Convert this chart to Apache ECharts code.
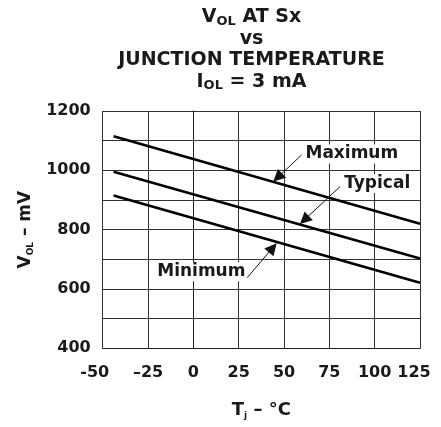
<!DOCTYPE html>
<html><head><meta charset="utf-8">
<script src="https://cdn.jsdelivr.net/npm/echarts@6/dist/echarts.min.js"></script>
<style>html,body{margin:0;padding:0;background:#fff}#c{width:441px;height:427px}</style>
</head><body><div id="c"></div>
<script>
// ---- data ----
const temps = [-44, 125];
const vMaximum = [1115, 820];
const vTypical = [995, 703];
const vMinimum = [915, 621];
const xTickValues = [-50, -25, 0, 25, 50, 75, 100, 125];
const xTickLabels = ['-50', '–25', '0', '25', '50', '75', '100', '125'];
const yTickValues = [400, 500, 600, 700, 800, 900, 1000, 1100, 1200];
const yTickLabels = ['400', '', '600', '', '800', '', '1000', '', '1200'];
const annotationNames = ['Maximum', 'Typical', 'Minimum'];
const annotationTextAt = [[87.4, 1055], [101.4, 956], [4.4, 658]];
const annotationTail = [[59.7, 1052], [80.9, 945], [29.7, 638]];
const annotationHead = [[46.5, 976], [61.2, 833], [43.8, 739]];

const FONT = '"DejaVu Sans", sans-serif';
const INK = '#1a1a1a';
const chart = echarts.init(document.getElementById('c'), null, {renderer: 'canvas'});

function pairs(xs, ys) { return xs.map((x, i) => [x, ys[i]]); }

const base = {fontFamily: FONT, fontWeight: 'bold', color: INK};
const mainT = Object.assign({fontSize: 19, lineHeight: 21.5}, base);
const subT = Object.assign({fontSize: 13, lineHeight: 8, verticalAlign: 'bottom'}, base);

chart.setOption({
  animation: false,
  backgroundColor: '#fff',
  title: {
    left: 251.5, top: 6.5, padding: 0, textAlign: 'center',
    text: '{a|V}{s|OL}{a| AT Sx}\n{a|vs}\n{a|JUNCTION TEMPERATURE}\n{a|I}{s|OL}{a| = 3 mA}',
    textStyle: {rich: {a: mainT, s: subT}}
  },
  grid: {left: 102.7, right: 21, top: 111, bottom: 78.7, containLabel: false},
  xAxis: {
    type: 'value', min: -50, max: 125, interval: 25,
    axisLine: {show: true, lineStyle: {color: '#222', width: 1}},
    axisTick: {show: false},
    splitLine: {show: true, lineStyle: {color: '#333', width: 1}},
    axisLabel: {
      margin: 17, fontFamily: FONT, fontWeight: 'bold', fontSize: 16, color: INK,
      formatter: function (v) {
        const i = xTickValues.indexOf(v);
        const t = i >= 0 ? xTickLabels[i] : '';
        if (i === 0) return '{f|' + t + '}';
        if (i === xTickValues.length - 1) return '{l|' + t + '}';
        return t;
      },
      rich: {
        f: {fontFamily: FONT, fontWeight: 'bold', fontSize: 16, color: INK, padding: [0, 16, 0, 0]},
        l: {fontFamily: FONT, fontWeight: 'bold', fontSize: 16, color: INK, padding: [0, 12, 0, 0]}
      }
    },
    name: '{a|T}{s|j}{a| – °C}',
    nameLocation: 'middle', nameGap: 52,
    nameTextStyle: {rich: {
      a: Object.assign({fontSize: 18, lineHeight: 20}, base),
      s: Object.assign({fontSize: 9, lineHeight: 6, verticalAlign: 'bottom'}, base)
    }}
  },
  yAxis: {
    type: 'value', min: 400, max: 1200, interval: 100,
    axisLine: {show: true, lineStyle: {color: '#222', width: 1}},
    axisTick: {show: false},
    splitLine: {show: true, lineStyle: {color: '#333', width: 1}},
    axisLabel: {
      margin: 12, fontFamily: FONT, fontWeight: 'bold', fontSize: 16, color: INK,
      formatter: function (v) {
        const i = yTickValues.indexOf(v);
        return i >= 0 ? yTickLabels[i] : '';
      }
    },
    name: '{a|V}{s|OL}{a| – mV}',
    nameLocation: 'middle', nameGap: 67, nameRotate: 90,
    nameTextStyle: {rich: {
      a: Object.assign({fontSize: 17, lineHeight: 20}, base),
      s: Object.assign({fontSize: 9, lineHeight: 6, verticalAlign: 'bottom'}, base)
    }}
  },
  series: [
    {name: 'Maximum', type: 'line', data: pairs(temps, vMaximum), symbol: 'none',
     lineStyle: {color: '#000', width: 2.6}, silent: true},
    {name: 'Typical', type: 'line', data: pairs(temps, vTypical), symbol: 'none',
     lineStyle: {color: '#000', width: 2.6}, silent: true},
    {name: 'Minimum', type: 'line', data: pairs(temps, vMinimum), symbol: 'none',
     lineStyle: {color: '#000', width: 2.6}, silent: true,
     markLine: {
       silent: true, symbol: ['none', 'triangle'], symbolSize: 12,
       lineStyle: {color: '#111', width: 1, type: 'solid'},
       label: {show: false},
       data: annotationTail.map((t, i) => [{coord: t}, {coord: annotationHead[i]}])
     },
     markPoint: {
       silent: true, symbol: 'circle', symbolSize: 1,
       itemStyle: {color: 'rgba(0,0,0,0)'},
       label: {show: true, position: 'inside', fontFamily: FONT, fontWeight: 'bold', fontSize: 17, color: INK,
               backgroundColor: '#fff', padding: [1, 1, 1, 1],
               formatter: function (p) { return p.name; }},
       data: annotationNames.map((n, i) => ({name: n, coord: annotationTextAt[i]}))
     }}
  ]
});
</script></body></html>
